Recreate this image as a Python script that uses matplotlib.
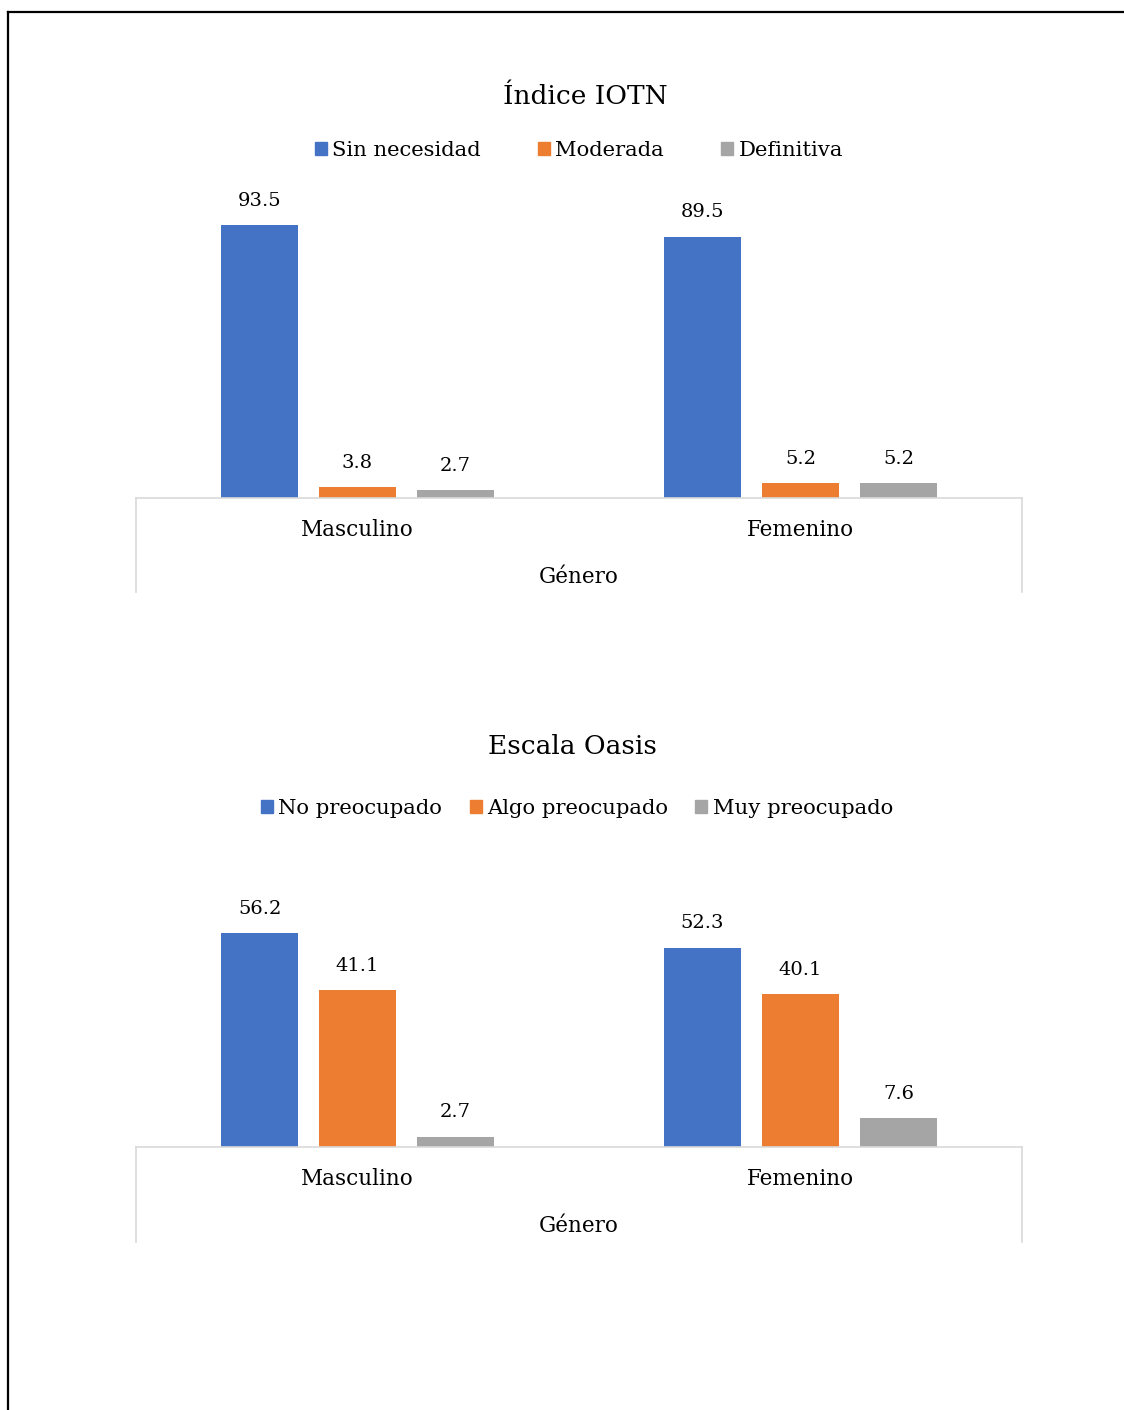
import matplotlib
matplotlib.use("Agg")
import matplotlib.pyplot as plt
from matplotlib.patches import Patch
from matplotlib.lines import Line2D

plt.rcParams['font.family'] = ['DejaVu Serif']

# data
generos = ["Masculino", "Femenino"]

iotn_series = ["Sin necesidad", "Moderada", "Definitiva"]
iotn_values = [[93.5, 89.5],
               [3.8, 5.2],
               [2.7, 5.2]]

oasis_series = ["No preocupado", "Algo preocupado", "Muy preocupado"]
oasis_values = [[56.2, 52.3],
                [41.1, 40.1],
                [2.7, 7.6]]

colors = ["#4472C4", "#ED7D31", "#A5A5A5"]
W, H = 1124, 1410


def px_x(x):
    return x / W


def px_y(y):
    return 1 - y / H


def draw_chart(fig, rect, series, values, ymax, title, title_xy, leg_xy,
               colspacing, frame_bottom):
    ax = fig.add_axes(rect)
    step = 0.221
    bw = 0.174
    for j, (name, vals) in enumerate(zip(series, values)):
        xs = [i + (j - 1) * step for i in range(len(generos))]
        bars = ax.bar(xs, vals, width=bw, color=colors[j], label=name)
        for b, v in zip(bars, vals):
            ax.annotate(f"{v:.1f}", (b.get_x() + b.get_width() / 2, v),
                        xytext=(0, 11), textcoords="offset points",
                        ha="center", va="bottom", fontsize=14)
    ax.set_xlim(-0.5, 1.5)
    ax.set_ylim(0, ymax)
    ax.set_yticks([])
    ax.set_xticks(range(len(generos)))
    ax.set_xticklabels(generos, fontsize=15.5)
    ax.tick_params(axis="x", length=0, pad=15)
    ax.set_xlabel("Género", fontsize=15.5, labelpad=18)
    for s in ["top", "left", "right"]:
        ax.spines[s].set_visible(False)
    ax.spines["bottom"].set_color("#d9d9d9")
    ax.spines["bottom"].set_linewidth(1.2)

    # frame lines under the axis
    y0 = rect[1]
    for x in [rect[0], rect[0] + rect[2]]:
        fig.add_artist(Line2D([x, x], [y0, px_y(frame_bottom)],
                              color="#d9d9d9", lw=1.2))

    fig.text(title_xy[0], title_xy[1], title, ha="center", va="center",
             fontsize=19)
    handles = [Patch(color=c) for c in colors]
    fig.legend(handles, series, loc="center", bbox_to_anchor=leg_xy, ncol=3,
               frameon=False, fontsize=15.2, handlelength=0.57,
               handleheight=0.57, handletextpad=0.25,
               columnspacing=colspacing)
    return ax


fig = plt.figure(figsize=(11.24, 14.10), dpi=100)

draw_chart(fig, [px_x(136), px_y(498), px_x(886), 292 / H],
           iotn_series, iotn_values, 100, "Índice IOTN",
           (px_x(585), px_y(96)), (px_x(579), px_y(150)), 2.7, 592)

draw_chart(fig, [px_x(136), px_y(1147), px_x(886), 228.6 / H],
           oasis_series, oasis_values, 60, "Escala Oasis",
           (px_x(572), px_y(746)), (px_x(577), px_y(808)), 1.3, 1242)

# page border (top and left)
fig.add_artist(Line2D([px_x(8), 1], [px_y(12), px_y(12)], color="black", lw=1.6))
fig.add_artist(Line2D([px_x(8), px_x(8)], [px_y(12), 0], color="black", lw=1.6))

fig.savefig("out.png", dpi=100)
